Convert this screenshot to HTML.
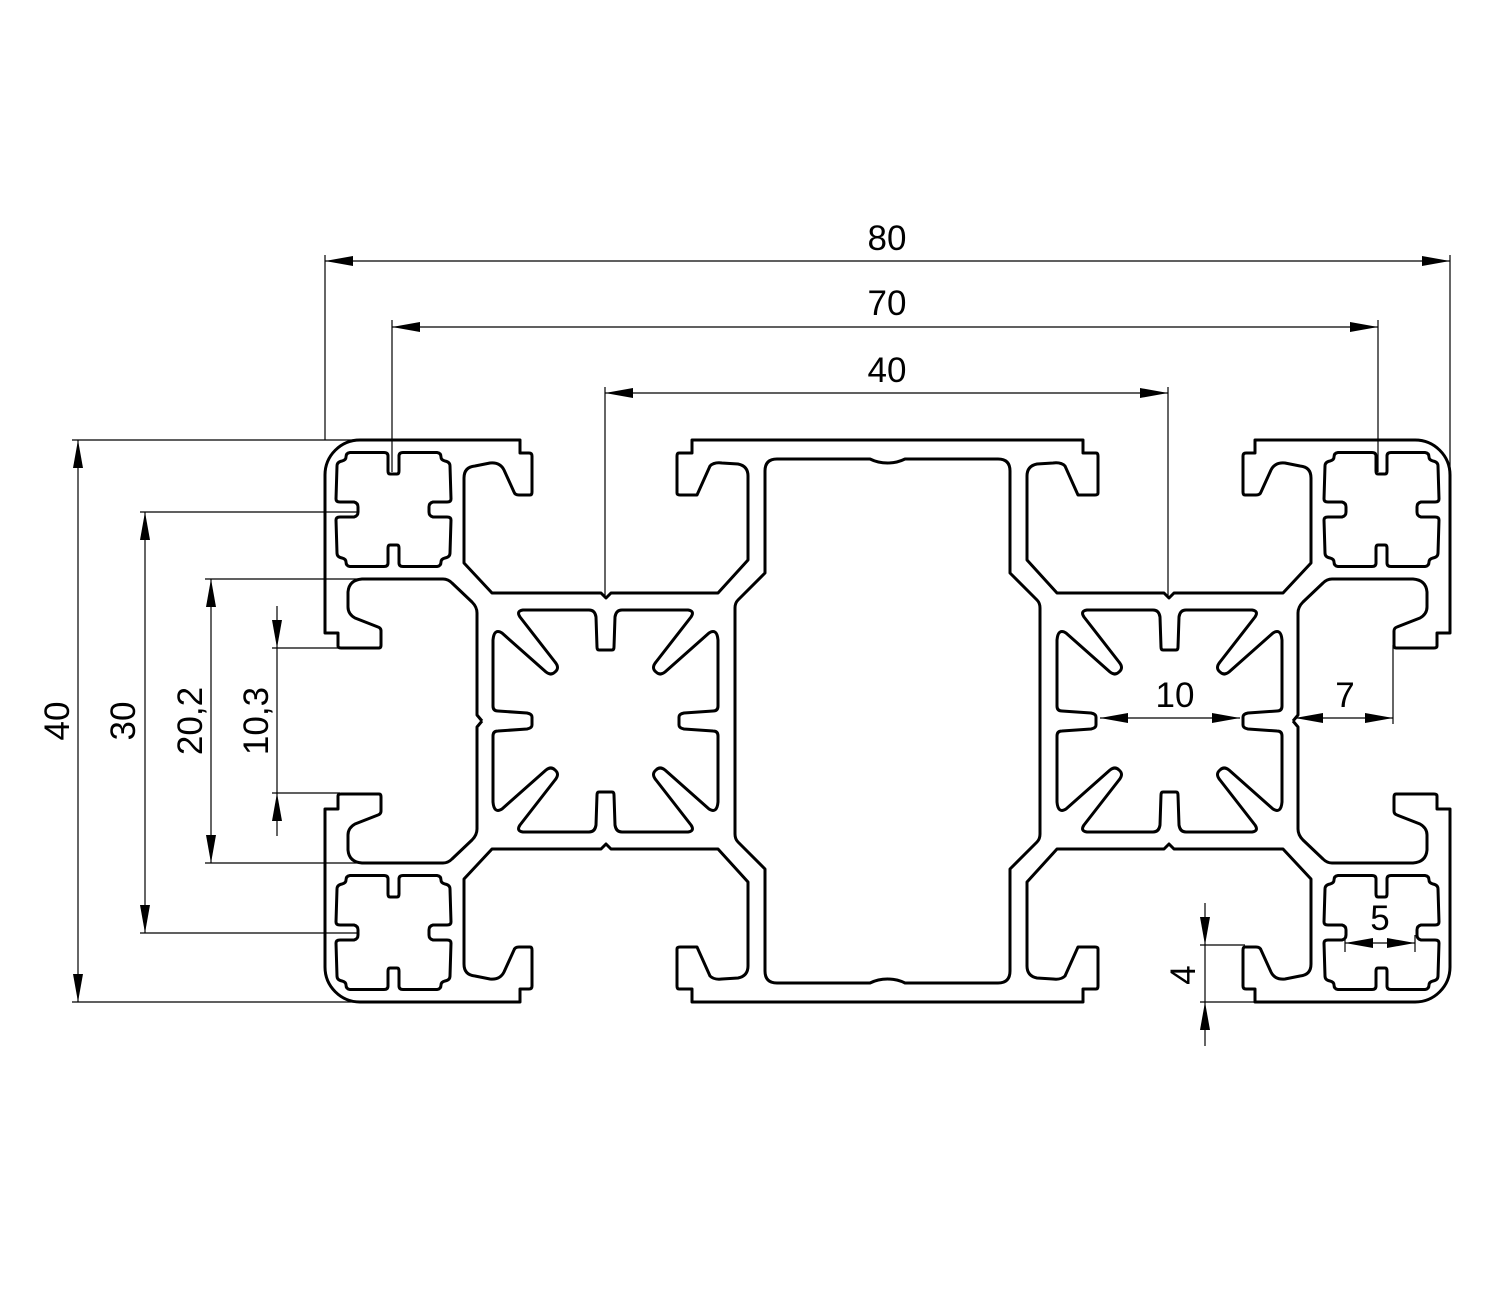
<!DOCTYPE html>
<html><head><meta charset="utf-8"><style>html,body{margin:0;padding:0;background:#fff}svg{display:block}</style></head>
<body>
<svg width="1500" height="1300" viewBox="0 0 1500 1300" xmlns="http://www.w3.org/2000/svg">
<defs>
<marker id="a" markerUnits="userSpaceOnUse" markerWidth="30" markerHeight="12" refX="28" refY="5" orient="auto-start-reverse" viewBox="0 0 30 12"><path d="M0,0 L28,5 L0,10 z" fill="#000"/></marker>
<path id="outer" d="M887.5,440 L692,440 L692,453 L679,453 Q677,453 677,456 L677,493 Q677,495 680,495 L697,495 L710,466 Q714,462 722,463 L738,464 Q748,466 748,476 L748,560 L718,593 L611,593 L606,598 L601,593 L492,593 L464,563 L464,478 Q464,467 475,466 L490,463 Q500,462 504,470 L514,492 Q515,495 519,495 L530,495 Q532,495 532,492 L532,456 Q532,453 529,453 L520,453 L520,440 L360,440 A35,35 0 0 0 325,475 L325,633 L338,633 L338,646 Q338,648 341,648 L379,648 Q381,648 381,645 L381,631 Q381,628 378,627 L355,618 Q348,614 348,607 L348,592 Q349,580 362,579 L443,579 Q448,579 452,583 L472,602 Q477,607 477,613 L477,715 L482,721"/>
<path id="cav" d="M887.5,463 Q878,463 870,459 L777,459 Q765,459 765,471 L765,573 L738,600 Q735,603 735,608 L735,721"/>
<path id="ch" d="M605.5,650 L599,650 Q597,650 597,647 L596,617 Q595,610 589,610 L523,610 Q516,611 520,617 L555,662 Q560,668 555,672 Q551,676 546,672 L502,633 Q494,628 493,640 L493,706 Q493,711 498,711 L527,713 Q532,714 532,717 L532,721"/>
<path id="sq" d="M393.5,474 L390,474 Q388,474 388,471 L388,456 Q388,452.5 384,452.5 L350,452.5 Q346,453 346,457 Q346,460 342,461 Q337,462 337,466 L336,499 Q336,502 340,502 L354,502 Q358,503 358,507 L358,509.5"/>
<g id="sq4"><use href="#sq"/><use href="#sq" transform="matrix(-1,0,0,1,787,0)"/><use href="#sq" transform="matrix(1,0,0,-1,0,1019)"/><use href="#sq" transform="matrix(-1,0,0,-1,787,1019)"/></g>
<g id="ch4"><use href="#ch"/><use href="#ch" transform="matrix(-1,0,0,1,1211,0)"/><use href="#ch" transform="matrix(1,0,0,-1,0,1442)"/><use href="#ch" transform="matrix(-1,0,0,-1,1211,1442)"/></g>
</defs>
<g fill="none" stroke="#000" stroke-width="3" stroke-linejoin="round">
<use href="#outer"/><use href="#outer" transform="matrix(-1,0,0,1,1775,0)"/><use href="#outer" transform="matrix(1,0,0,-1,0,1442)"/><use href="#outer" transform="matrix(-1,0,0,-1,1775,1442)"/>
<use href="#cav"/><use href="#cav" transform="matrix(-1,0,0,1,1775,0)"/><use href="#cav" transform="matrix(1,0,0,-1,0,1442)"/><use href="#cav" transform="matrix(-1,0,0,-1,1775,1442)"/>
<use href="#ch4"/><use href="#ch4" transform="matrix(-1,0,0,1,1775,0)"/>
<use href="#sq4"/><use href="#sq4" transform="translate(988,0)"/><use href="#sq4" transform="translate(0,423)"/><use href="#sq4" transform="translate(988,423)"/>
</g>
<g stroke="#000" stroke-width="1.2" fill="none">
<!-- extension lines -->
<path d="M325,255V440 M1450,255V470 M392,320V472 M1378,320V472 M605,387V598 M1168,387V598 M72,440H360 M72,1002H360 M140,512H357 M140,933H357 M205,579H362 M205,863H362 M272,648H340 M272,793H340 M1393,645V724 M1200,945H1245 M1200,1002H1255 M1345,935V952 M1415,935V952"/>
<line x1="325" y1="261" x2="1450" y2="261" marker-start="url(#a)" marker-end="url(#a)"/>
<line x1="392" y1="327" x2="1378" y2="327" marker-start="url(#a)" marker-end="url(#a)"/>
<line x1="605" y1="393" x2="1168" y2="393" marker-start="url(#a)" marker-end="url(#a)"/>
<line x1="78" y1="440" x2="78" y2="1002" marker-start="url(#a)" marker-end="url(#a)"/>
<line x1="145" y1="512" x2="145" y2="933" marker-start="url(#a)" marker-end="url(#a)"/>
<line x1="211" y1="579" x2="211" y2="863" marker-start="url(#a)" marker-end="url(#a)"/>
<line x1="277" y1="606" x2="277" y2="648" marker-end="url(#a)"/>
<line x1="277" y1="648" x2="277" y2="793"/>
<line x1="277" y1="836" x2="277" y2="793" marker-end="url(#a)"/>
<line x1="1100" y1="718" x2="1240" y2="718" marker-start="url(#a)" marker-end="url(#a)"/>
<line x1="1295" y1="718" x2="1393" y2="718" marker-start="url(#a)" marker-end="url(#a)"/>
<line x1="1345" y1="943" x2="1415" y2="943" marker-start="url(#a)" marker-end="url(#a)"/>
<line x1="1205" y1="903" x2="1205" y2="945" marker-end="url(#a)"/>
<line x1="1205" y1="945" x2="1205" y2="1002"/>
<line x1="1205" y1="1046" x2="1205" y2="1002" marker-end="url(#a)"/>
</g>
<g font-family="'Liberation Sans', sans-serif" font-size="35" fill="#000" text-anchor="middle">
<text x="887" y="250">80</text>
<text x="887" y="315">70</text>
<text x="887" y="382">40</text>
<text x="1175" y="707">10</text>
<text x="1345" y="707">7</text>
<text x="1380" y="930">5</text>
<text transform="translate(69,721) rotate(-90)">40</text>
<text transform="translate(135,721) rotate(-90)">30</text>
<text transform="translate(202,721) rotate(-90)">20,2</text>
<text transform="translate(268,721) rotate(-90)">10,3</text>
<text transform="translate(1195,975) rotate(-90)">4</text>
</g>
</svg>
</body></html>
